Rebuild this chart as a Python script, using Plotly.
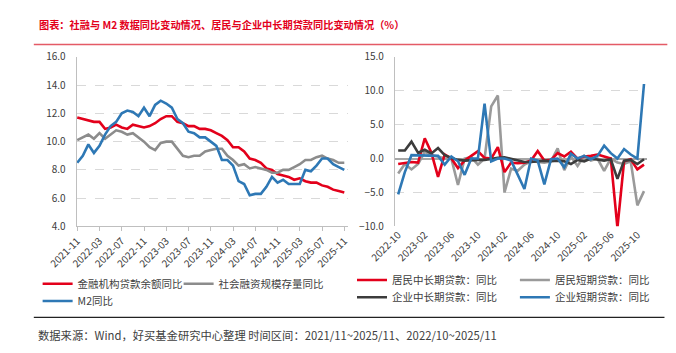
import plotly.graph_objects as go

# ---------------- data ----------------
left_months = [f"{y}-{m:02d}" for y in range(2021, 2026) for m in range(1, 13)]
left_months = left_months[left_months.index("2021-11"):left_months.index("2025-11") + 1]

loan_yoy = [11.7, 11.6, 11.5, 11.4, 11.4, 10.9, 11.0, 11.2, 11.0, 10.9, 11.2, 11.1,
            11.0, 11.1, 11.3, 11.6, 11.8, 11.8, 11.4, 11.3, 11.1, 11.1, 10.9, 10.9,
            10.8, 10.6, 10.4, 10.1, 9.6, 9.6, 9.3, 8.8, 8.7, 8.5, 8.1, 8.0,
            7.7, 7.6, 7.5, 7.3, 7.4, 7.2, 7.1, 7.1, 6.9, 6.8, 6.6, 6.5, 6.4]
afre_yoy = [10.1, 10.3, 10.5, 10.2, 10.6, 10.2, 10.5, 10.8, 10.7, 10.5, 10.6, 10.3,
            10.0, 9.6, 9.4, 9.9, 10.0, 10.0, 9.5, 9.0, 8.9, 9.0, 9.0, 9.3,
            9.4, 9.5, 9.5, 9.0, 8.7, 8.3, 8.4, 8.1, 8.2, 8.1, 8.0, 7.8,
            7.8, 8.0, 8.0, 8.2, 8.4, 8.7, 8.7, 8.9, 9.0, 8.8, 8.7, 8.5, 8.5]
m2_yoy = [8.5, 9.0, 9.8, 9.2, 9.7, 10.5, 11.1, 11.4, 12.0, 12.2, 12.1, 11.8,
          12.4, 11.8, 12.6, 12.9, 12.7, 12.4, 11.6, 11.3, 10.7, 10.6, 10.3, 10.3,
          10.0, 9.7, 8.7, 8.7, 8.3, 7.2, 7.0, 6.2, 6.3, 6.3, 6.8, 7.5,
          7.1, 7.3, 7.0, 7.0, 7.0, 8.0, 7.9, 8.3, 8.8, 8.8, 8.4, 8.2, 8.0]

right_months = [f"{y}-{m:02d}" for y in range(2022, 2026) for m in range(1, 13)]
right_months = right_months[right_months.index("2022-10"):right_months.index("2025-11") + 1]

hh_long = [-0.8, -0.65, -0.5, -0.6, 3.0, 0.85, -2.7, 0.6, 0.0, -1.4, -0.3, 0.4,
           1.1, 0.1, 0.0, 1.7, -2.0, -0.6, -0.7, -0.6, -0.3, 1.1, -0.3, -0.2,
           0.8, 0.3, 1.0, 0.0, 0.3, 0.4, 0.6, 0.3, 0.0, -10.2, -0.4, -0.1, -1.6, -0.9]
hh_short = [-2.2, -0.8, -1.6, -0.8, 1.0, 0.5, 0.3, 0.0, 0.0, -3.9, 0.0, 0.2,
            -0.9, 0.0, 7.7, 9.3, -5.0, -1.5, -1.8, -0.9, -0.4, -0.5, -0.6, -0.4,
            1.5, -1.7, 0.3, -1.1, 0.4, -0.3, 0.0, -1.8, 0.0, -0.6, -0.8, -0.4, -6.9, -4.8]
corp_long = [1.2, 1.2, 2.5, 0.85, 1.3, 0.75, 1.55, 0.5, 0.1, -0.2, -0.3, -0.2,
             -0.2, -0.2, 0.0, 0.1, 0.2, 0.0, -0.3, -0.5, -0.5, -0.4, -0.3, -0.4,
             -0.3, -0.4, -0.8, -0.2, -0.4, 0.0, -0.2, -0.3, -0.1, -3.0, -0.3, -0.2, -0.8, -0.1]
corp_short = [-5.3, -2.0, 0.5, 0.5, 0.5, 0.4, 0.4, -0.9, 0.3, -0.4, -2.4, 0.0,
              0.0, 8.1, -0.4, 0.0, 0.0, -0.3, -2.3, -4.5, 0.0, -0.3, -3.8, -0.1,
              0.0, -1.3, 0.7, 0.0, 0.4, -0.1, 0.4, 1.9, 0.8, 0.0, 1.4, 0.6, 0.0, 11.0]

left_ticks = left_months[::4]
right_ticks = right_months[::4][:10]

title_text = "图表：社融与 M2 数据同比变动情况、居民与企业中长期贷款同比变动情况（%）"
source_text = "数据来源：Wind，好买基金研究中心整理 时间区间：2021/11~2025/11、2022/10~2025/11"

# ---------------- styles ----------------
W, H = 676, 353
FONT = "Noto Sans CJK SC, Noto Sans, sans-serif"
RED = "#e3001b"
GRAY = "#8c8c8c"
BLUE = "#2e78b5"
DARK = "#3c3c3c"
LGRAY = "#9a9a9a"
LW = 2.6

fig = go.Figure()

def add(x, y, name, color, xa, ya, legend):
    fig.add_trace(go.Scatter(x=x, y=y, name=name, mode="lines",
                             line=dict(color=color, width=LW),
                             xaxis=xa, yaxis=ya, legend=legend))

add(left_months, loan_yoy, "金融机构贷款余额同比", RED, "x", "y", "legend")
add(left_months, afre_yoy, "社会融资规模存量同比", GRAY, "x", "y", "legend2")
add(left_months, m2_yoy, "M2同比", BLUE, "x", "y", "legend3")

add(right_months, hh_short, "居民短期贷款：同比", LGRAY, "x2", "y2", "legend5")
add(right_months, hh_long, "居民中长期贷款：同比", RED, "x2", "y2", "legend4")
add(right_months, corp_long, "企业中长期贷款：同比", DARK, "x2", "y2", "legend6")
add(right_months, corp_short, "企业短期贷款：同比", BLUE, "x2", "y2", "legend7")

ydom = [1 - 227 / H, 1 - 50 / H]
tickfont = dict(family=FONT, size=10, color="#404040")
grid = "#d9d9d9"

fig.update_layout(
    width=W, height=H, margin=dict(l=0, r=0, t=0, b=0),
    paper_bgcolor="white", plot_bgcolor="white",
    font=dict(family=FONT, color="#404040"),
    xaxis=dict(domain=[49 / W, 334 / W], type="category", categoryorder="array",
               categoryarray=left_months, range=[-0.1, 48.7],
               tickmode="array", tickvals=left_ticks, ticktext=left_ticks,
               tickangle=-45, tickfont=tickfont, showline=True, linecolor="#bfbfbf",
               linewidth=1, ticks="outside", ticklen=4, tickcolor="#bfbfbf",
               showgrid=False, anchor="y"),
    yaxis=dict(domain=ydom, range=[4, 16], dtick=2, tickformat=".1f",
               tickfont=tickfont, showline=True, linecolor="#bfbfbf", linewidth=1,
               showgrid=True, gridcolor=grid, griddash="dash", gridwidth=1,
               zeroline=False, ticks="", ticklabelstandoff=8, anchor="x"),
    xaxis2=dict(domain=[383 / W, 648 / W], type="category", categoryorder="array",
                categoryarray=right_months, range=[-0.5, 37.5],
                tickmode="array", tickvals=right_ticks, ticktext=right_ticks,
                tickangle=-45, tickfont=tickfont, showline=False, ticks="",
                showgrid=False, anchor="y2"),
    yaxis2=dict(domain=ydom, range=[-10, 15], dtick=5, tickformat=".1f",
                tickfont=tickfont, showline=True, linecolor="#bfbfbf", linewidth=1,
                showgrid=True, gridcolor=grid, griddash="dash", gridwidth=1,
                zeroline=True, zerolinecolor="#a6a6a6", zerolinewidth=1.5,
                ticks="", ticklabelstandoff=8, anchor="x2"),
    showlegend=True,
)

legfont = dict(family=FONT, size=10.5, color="#404040")
common = dict(orientation="h", xanchor="left", yanchor="middle", font=legfont,
              bgcolor="rgba(0,0,0,0)", borderwidth=0, itemwidth=30)
# (legend name, left px of the legend box, centre y px)
legend_pos = [("legend", 8, 287), ("legend2", 156, 287), ("legend3", 8, 305),
              ("legend4", 338, 283), ("legend5", 509, 283),
              ("legend6", 338, 301), ("legend7", 509, 301)]
fig.update_layout(**{name: dict(x=px / W, y=1 - py / H, **common)
                     for name, px, py in legend_pos})

# title, rules and footer
fig.add_annotation(text=f"<b>{title_text}</b>", xref="paper", yref="paper",
                   x=7 / W, y=1 - 16 / H, xanchor="left", yanchor="middle",
                   showarrow=False, font=dict(family=FONT, size=10.2, color="#e3001b"))
fig.add_shape(type="line", xref="paper", yref="paper", x0=4 / W, x1=669 / W,
              y0=1 - 37 / H, y1=1 - 37 / H, line=dict(color="#e45a66", width=1.5))
fig.add_shape(type="line", xref="paper", yref="paper", x0=4 / W, x1=666 / W,
              y0=1 - 322 / H, y1=1 - 322 / H, line=dict(color="#222222", width=1.2))
fig.add_annotation(text=source_text, xref="paper", yref="paper",
                   x=6 / W, y=1 - 340 / H, xanchor="left", yanchor="middle",
                   showarrow=False, font=dict(family=FONT, size=11.3, color="#404040"))

fig.write_html("out.html")
